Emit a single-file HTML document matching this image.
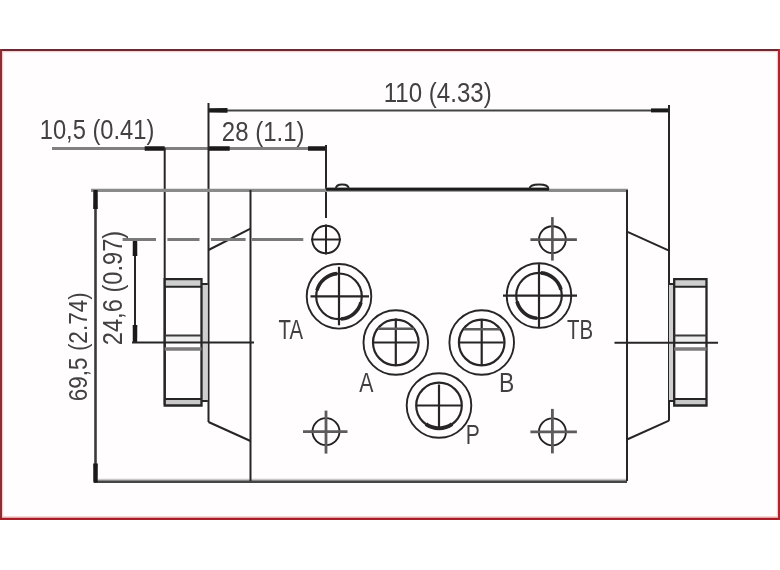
<!DOCTYPE html>
<html><head><meta charset="utf-8"><style>
html,body{margin:0;padding:0;background:#fff;}
body{width:780px;height:570px;overflow:hidden;position:relative;}
svg{position:absolute;left:0;top:0;filter:blur(0.3px);}
text{font-family:"Liberation Sans",sans-serif;}
</style></head><body>
<svg width="780" height="570" viewBox="0 0 780 570">
<rect x="0" y="0" width="780" height="570" fill="#ffffff"/>
<rect x="1" y="50" width="778" height="469" fill="#fffdfd" stroke="#a52a35" stroke-width="2"/>
<line x1="0" y1="50" x2="780" y2="50" stroke="#6a2a33" stroke-width="2"/>
<line x1="1" y1="49" x2="1" y2="520" stroke="#8a2e38" stroke-width="2"/>
<line x1="0" y1="518.6" x2="780" y2="518.6" stroke="#a81c24" stroke-width="2.2"/>
<line x1="779" y1="49" x2="779" y2="520" stroke="#b5202c" stroke-width="2"/>
<rect x="2.6" y="51.6" width="774.8" height="465.2" fill="none" stroke="#f7cccc" stroke-width="1.2"/>
<line x1="208.5" y1="110.4" x2="669" y2="110.4" stroke="#444" stroke-width="2"/>
<path d="M208.50,112.60 L227.50,112.70 L227.50,108.10 L208.50,108.20 Z" fill="#1a1a1a"/>
<path d="M669.00,108.40 L651.00,108.40 L651.00,112.40 L669.00,112.40 Z" fill="#1a1a1a"/>
<line x1="52" y1="148.5" x2="326" y2="148.5" stroke="#808080" stroke-width="3"/>
<path d="M164.70,146.30 L144.70,146.20 L144.70,150.80 L164.70,150.70 Z" fill="#1a1a1a"/>
<path d="M208.70,150.70 L229.70,150.80 L229.70,146.20 L208.70,146.30 Z" fill="#1a1a1a"/>
<path d="M326.00,146.30 L308.00,146.20 L308.00,150.80 L326.00,150.70 Z" fill="#1a1a1a"/>
<line x1="208.5" y1="103" x2="208.5" y2="422" stroke="#262626" stroke-width="2"/>
<line x1="669" y1="105" x2="669" y2="420.7" stroke="#262626" stroke-width="2"/>
<line x1="164.7" y1="148" x2="164.7" y2="405" stroke="#262626" stroke-width="2"/>
<line x1="326" y1="145" x2="326" y2="218" stroke="#262626" stroke-width="2"/>
<line x1="91" y1="190.3" x2="628" y2="190.3" stroke="#8a8a8a" stroke-width="3.2"/>
<line x1="326" y1="189.6" x2="549" y2="189.6" stroke="#a8a8a8" stroke-width="4.4"/>
<line x1="326" y1="189.3" x2="549" y2="189.3" stroke="#1c1c1c" stroke-width="3"/>
<line x1="94" y1="480.2" x2="627" y2="480.2" stroke="#c8c8c8" stroke-width="3"/>
<line x1="94" y1="481.8" x2="627" y2="481.8" stroke="#454545" stroke-width="2.6"/>
<line x1="250.5" y1="190" x2="250.5" y2="481" stroke="#262626" stroke-width="2"/>
<line x1="627" y1="190" x2="627" y2="481" stroke="#262626" stroke-width="2"/>
<line x1="95.5" y1="190" x2="95.5" y2="482" stroke="#3a3a3a" stroke-width="2.6"/>
<path d="M93.30,190.00 L93.20,209.00 L97.80,209.00 L97.70,190.00 Z" fill="#1a1a1a"/>
<path d="M97.70,482.50 L97.80,463.50 L93.20,463.50 L93.30,482.50 Z" fill="#1a1a1a"/>
<line x1="135" y1="239.5" x2="135" y2="342.5" stroke="#262626" stroke-width="2"/>
<path d="M132.80,239.50 L132.70,256.00 L137.30,256.00 L137.20,239.50 Z" fill="#1a1a1a"/>
<path d="M137.20,342.50 L137.30,325.00 L132.70,325.00 L132.80,342.50 Z" fill="#1a1a1a"/>
<line x1="208.5" y1="250" x2="250.5" y2="228.6" stroke="#262626" stroke-width="2"/>
<line x1="208.5" y1="422" x2="250.5" y2="441" stroke="#262626" stroke-width="2"/>
<line x1="627" y1="231.6" x2="669" y2="250.6" stroke="#262626" stroke-width="2"/>
<line x1="627" y1="439.5" x2="669" y2="420.7" stroke="#262626" stroke-width="2"/>
<line x1="122.6" y1="239.6" x2="156" y2="239.6" stroke="#7a7a7a" stroke-width="3"/>
<line x1="167.4" y1="239.6" x2="199.5" y2="239.6" stroke="#7a7a7a" stroke-width="3"/>
<line x1="211" y1="239.6" x2="245.6" y2="239.6" stroke="#7a7a7a" stroke-width="3"/>
<line x1="252" y1="239.6" x2="303.3" y2="239.6" stroke="#7a7a7a" stroke-width="3"/>
<rect x="164.7" y="279.2" width="36.80000000000001" height="7.5" fill="#cfcfcf"/>
<rect x="164.7" y="399" width="36.80000000000001" height="6.5" fill="#c8c8c8"/>
<rect x="164.7" y="335.5" width="36.80000000000001" height="7" fill="#ededed"/>
<rect x="201.5" y="284" width="6.300000000000011" height="117" fill="#cfcfcf"/>
<path d="M164.7,279.2 H201.5 V405.5 H164.7 Z" stroke="#262626" stroke-width="2.3" fill="none"/>
<line x1="164.7" y1="286.7" x2="201.5" y2="286.7" stroke="#262626" stroke-width="2"/>
<line x1="164.7" y1="335.5" x2="201.5" y2="335.5" stroke="#3a3a3a" stroke-width="1.8"/>
<line x1="164.7" y1="349" x2="201.5" y2="349" stroke="#7a7a7a" stroke-width="3.5"/>
<line x1="164.7" y1="399" x2="201.5" y2="399" stroke="#262626" stroke-width="2"/>
<line x1="201.5" y1="284" x2="207.8" y2="284" stroke="#262626" stroke-width="2"/>
<line x1="201.5" y1="401" x2="207.8" y2="401" stroke="#262626" stroke-width="2"/>
<rect x="674.2" y="279.2" width="32.299999999999955" height="7.5" fill="#cfcfcf"/>
<rect x="674.2" y="399" width="32.299999999999955" height="6.5" fill="#c8c8c8"/>
<rect x="674.2" y="335.5" width="32.299999999999955" height="7" fill="#ededed"/>
<rect x="669" y="284" width="5.2000000000000455" height="117" fill="#cfcfcf"/>
<path d="M674.2,279.2 H706.5 V405.5 H674.2 Z" stroke="#262626" stroke-width="2.3" fill="none"/>
<line x1="674.2" y1="286.7" x2="706.5" y2="286.7" stroke="#262626" stroke-width="2"/>
<line x1="674.2" y1="335.5" x2="706.5" y2="335.5" stroke="#3a3a3a" stroke-width="1.8"/>
<line x1="674.2" y1="349" x2="706.5" y2="349" stroke="#7a7a7a" stroke-width="3.5"/>
<line x1="674.2" y1="399" x2="706.5" y2="399" stroke="#262626" stroke-width="2"/>
<line x1="669" y1="284" x2="674.2" y2="284" stroke="#262626" stroke-width="2"/>
<line x1="669" y1="401" x2="674.2" y2="401" stroke="#262626" stroke-width="2"/>
<line x1="132" y1="342.5" x2="254" y2="342.5" stroke="#262626" stroke-width="2"/>
<line x1="614.5" y1="342.8" x2="718" y2="342.8" stroke="#262626" stroke-width="2"/>
<circle cx="326" cy="239.5" r="13.8" stroke="#222" stroke-width="1.9" fill="none"/>
<line x1="311" y1="239.5" x2="341" y2="239.5" stroke="#262626" stroke-width="2"/>
<line x1="326" y1="224.5" x2="326" y2="254.5" stroke="#262626" stroke-width="2"/>
<circle cx="552.4" cy="239.6" r="13.4" stroke="#222" stroke-width="1.9" fill="none"/>
<line x1="530.4" y1="239.6" x2="576.9" y2="239.6" stroke="#555" stroke-width="2.6"/>
<line x1="552.4" y1="217.1" x2="552.4" y2="260.6" stroke="#555" stroke-width="2.6"/>
<circle cx="326" cy="431.6" r="13.5" stroke="#222" stroke-width="1.9" fill="none"/>
<line x1="303" y1="431.6" x2="347.5" y2="431.6" stroke="#5c5c5c" stroke-width="2.8"/>
<line x1="326" y1="410.6" x2="326" y2="453.6" stroke="#5c5c5c" stroke-width="2.8"/>
<circle cx="552.4" cy="431.9" r="13.5" stroke="#222" stroke-width="1.9" fill="none"/>
<line x1="530.4" y1="431.9" x2="576.9" y2="431.9" stroke="#5c5c5c" stroke-width="2.8"/>
<line x1="552.4" y1="408.9" x2="552.4" y2="453.4" stroke="#5c5c5c" stroke-width="2.8"/>
<circle cx="339" cy="296.3" r="32.3" stroke="#262626" stroke-width="1.9" fill="none"/>
<circle cx="339" cy="296.3" r="22.8" stroke="#262626" stroke-width="2.2" fill="none"/>
<line x1="310.5" y1="296.3" x2="369" y2="296.3" stroke="#262626" stroke-width="2.2"/>
<line x1="339" y1="266.8" x2="339" y2="325.3" stroke="#262626" stroke-width="2.2"/>
<circle cx="395.8" cy="342.5" r="32.3" stroke="#262626" stroke-width="1.9" fill="none"/>
<circle cx="395.8" cy="342.5" r="22.8" stroke="#262626" stroke-width="2.2" fill="none"/>
<line x1="373.8" y1="342.5" x2="416.8" y2="342.5" stroke="#262626" stroke-width="2.2"/>
<line x1="395.8" y1="318.5" x2="395.8" y2="365.0" stroke="#262626" stroke-width="2.2"/>
<circle cx="481.7" cy="342.5" r="32.3" stroke="#262626" stroke-width="1.9" fill="none"/>
<circle cx="481.7" cy="342.5" r="22.8" stroke="#262626" stroke-width="2.2" fill="none"/>
<line x1="459.7" y1="342.5" x2="503.7" y2="342.5" stroke="#262626" stroke-width="2.2"/>
<line x1="481.7" y1="319.5" x2="481.7" y2="365.0" stroke="#262626" stroke-width="2.2"/>
<circle cx="439" cy="405.5" r="32.3" stroke="#262626" stroke-width="1.9" fill="none"/>
<circle cx="439" cy="405.5" r="22.8" stroke="#262626" stroke-width="2.2" fill="none"/>
<line x1="417" y1="405.5" x2="461" y2="405.5" stroke="#262626" stroke-width="2.2"/>
<line x1="439" y1="384.5" x2="439" y2="427.5" stroke="#262626" stroke-width="2.2"/>
<circle cx="539" cy="295.6" r="32.3" stroke="#262626" stroke-width="1.9" fill="none"/>
<circle cx="539" cy="295.6" r="22.8" stroke="#262626" stroke-width="2.2" fill="none"/>
<line x1="503" y1="295.6" x2="577" y2="295.6" stroke="#262626" stroke-width="2.2"/>
<line x1="539" y1="264.1" x2="539" y2="328.1" stroke="#262626" stroke-width="2.2"/>
<path d="M316.98,290.40 A22.8,22.8 0 0 1 337.01,273.59" stroke="#262626" stroke-width="3.6" fill="none"/>
<path d="M361.02,302.20 A22.8,22.8 0 0 1 340.99,319.01" stroke="#262626" stroke-width="3.6" fill="none"/>
<path d="M540.99,272.89 A22.8,22.8 0 0 1 561.02,289.70" stroke="#262626" stroke-width="3.6" fill="none"/>
<path d="M537.01,318.31 A22.8,22.8 0 0 1 516.98,301.50" stroke="#262626" stroke-width="3.6" fill="none"/>
<path d="M452.08,424.18 A22.8,22.8 0 0 1 425.92,424.18" stroke="#262626" stroke-width="3.8" fill="none"/>
<line x1="378" y1="328.7" x2="414" y2="328.7" stroke="#5a5a5a" stroke-width="2.6"/>
<line x1="464" y1="329.2" x2="500" y2="329.2" stroke="#5a5a5a" stroke-width="2.6"/>
<path d="M335.8,189 Q335.8,184.5 342.2,184.5 Q348.8,184.5 348.8,189" stroke="#262626" stroke-width="1.8" fill="none"/>
<path d="M529.5,189 Q529.5,184.5 539,184.5 Q548.5,184.5 548.5,189" stroke="#262626" stroke-width="1.8" fill="none"/>
<g opacity="0.995"><text transform="translate(39.70,138.90) scale(0.8653,1)" font-size="27.43" fill="#404040">10,5 (0.41)</text>
<text transform="translate(221.80,141.20) scale(0.8748,1)" font-size="27.43" fill="#404040">28 (1.1)</text>
<text transform="translate(383.67,102.40) scale(0.8746,1)" font-size="27.57" fill="#404040">110 (4.33)</text>
<text transform="translate(87.30,401.15) rotate(-90) scale(0.8470,1)" font-size="26.57" fill="#404040">69,5 (2.74)</text>
<text transform="translate(122.30,345.18) rotate(-90) scale(0.8804,1)" font-size="26.86" fill="#404040">24,6 (0.97)</text>
<text transform="translate(278.55,338.80) scale(0.7443,1)" font-size="27.33" fill="#404040">TA</text>
<text transform="translate(566.95,338.80) scale(0.7483,1)" font-size="27.33" fill="#404040">TB</text>
<text transform="translate(359.36,392.40) scale(0.7866,1)" font-size="27.03" fill="#404040">A</text>
<text transform="translate(499.12,392.40) scale(0.8482,1)" font-size="27.03" fill="#404040">B</text>
<text transform="translate(465.77,444.30) scale(0.7623,1)" font-size="27.62" fill="#404040">P</text></g>
</svg>
</body></html>
